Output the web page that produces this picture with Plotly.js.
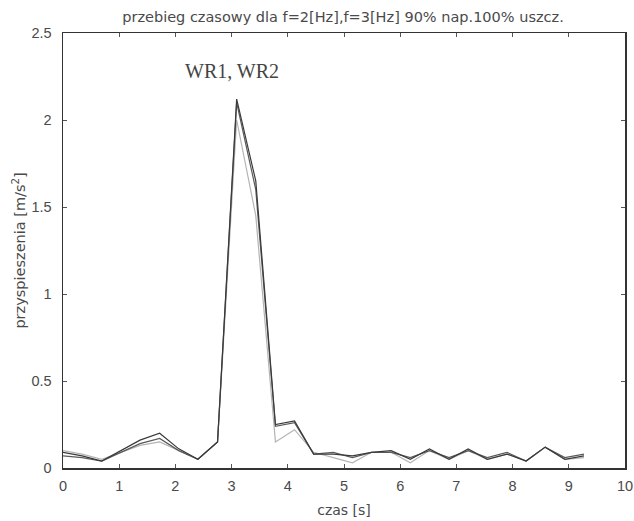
<!DOCTYPE html>
<html>
<head>
<meta charset="utf-8">
<script src="https://cdn.plot.ly/plotly-3.0.1.min.js"></script>
<style>html,body{margin:0;padding:0;background:#fff;}#chart{width:634px;height:521px;}</style>
</head>
<body>
<div id="chart"></div>
<script>
// time samples [s]
const czas = [0, 0.34, 0.69, 1.03, 1.37, 1.72, 2.06, 2.40, 2.75, 3.09, 3.43, 3.78, 4.12, 4.46, 4.81, 5.15, 5.49, 5.84, 6.18, 6.52, 6.87, 7.21, 7.55, 7.90, 8.24, 8.58, 8.93, 9.27];
// accelerations [m/s^2]
const wr1 = [0.09, 0.07, 0.04, 0.10, 0.16, 0.20, 0.11, 0.05, 0.15, 2.12, 1.65, 0.25, 0.27, 0.08, 0.08, 0.07, 0.09, 0.10, 0.05, 0.11, 0.05, 0.11, 0.05, 0.08, 0.04, 0.12, 0.05, 0.07];
const wr2 = [0.07, 0.06, 0.04, 0.09, 0.14, 0.17, 0.10, 0.05, 0.15, 2.10, 1.60, 0.24, 0.26, 0.08, 0.09, 0.06, 0.09, 0.09, 0.06, 0.10, 0.06, 0.10, 0.06, 0.09, 0.04, 0.12, 0.06, 0.08];
const wr3 = [0.10, 0.08, 0.05, 0.09, 0.13, 0.15, 0.10, 0.05, 0.15, 2.00, 1.45, 0.15, 0.22, 0.09, 0.06, 0.03, 0.09, 0.09, 0.03, 0.10, 0.05, 0.10, 0.05, 0.08, 0.04, 0.12, 0.05, 0.06];
const xTicks = [0,1,2,3,4,5,6,7,8,9,10];
const yTicks = [0,0.5,1,1.5,2,2.5];
const yTickText = ['0','0.5','1','1.5','2','2.5'];

const traces = [
  {x: czas, y: wr3, mode: 'lines', line: {color: '#b4b4b4', width: 1.2}},
  {x: czas, y: wr2, mode: 'lines', line: {color: '#5a5a5a', width: 1.2}},
  {x: czas, y: wr1, mode: 'lines', line: {color: '#3a3a3a', width: 1.2}}
];
const sans = 'DejaVu Sans, Arial, sans-serif';
const tickFam = 'Liberation Sans, Arial, sans-serif';
const layout = {
  width: 634, height: 521,
  margin: {l: 63, r: 9, t: 33, b: 53},
  paper_bgcolor: '#fff', plot_bgcolor: '#fff',
  showlegend: false,
  title: {text: 'przebieg czasowy dla f=2[Hz],f=3[Hz] 90% nap.100% uszcz.', font: {family: sans, size: 14.5, color: '#4a4a4a'}, x: 0.541, xanchor: 'center', y: 0.968, yanchor: 'middle'},
  xaxis: {
    range: [0, 10], tickvals: xTicks, ticktext: xTicks.map(String),
    ticks: 'inside', ticklen: 4, tickcolor: '#555', mirror: 'ticks',
    showline: true, linecolor: '#333', linewidth: 1.5, showgrid: false, zeroline: false,
    tickfont: {family: tickFam, size: 14.5, color: '#4a4a4a'}, ticklabelstandoff: 4, ticklabeloverflow: 'allow',
    title: {text: 'czas [s]', font: {family: sans, size: 14, color: '#4a4a4a'}, standoff: 12}
  },
  yaxis: {
    range: [0, 2.5], tickvals: yTicks, ticktext: yTickText,
    ticks: 'inside', ticklen: 4, tickcolor: '#555', mirror: 'ticks',
    showline: true, linecolor: '#333', linewidth: 1.5, showgrid: false, zeroline: false,
    tickfont: {family: tickFam, size: 14.5, color: '#4a4a4a'}, ticklabelstandoff: 7, ticklabeloverflow: 'allow',
    title: {text: 'przyspieszenia [m/s<sup>2</sup>]', font: {family: sans, size: 14.5, color: '#4a4a4a'}, standoff: 2}
  },
  annotations: [{x: 3.0, y: 2.28, xref: 'x', yref: 'y', text: 'WR1, WR2', showarrow: false,
    font: {family: 'Liberation Serif, Times New Roman, serif', size: 20, color: '#444'}}]
};
Plotly.newPlot('chart', traces, layout, {displayModeBar: false, staticPlot: true});
</script>
</body>
</html>
